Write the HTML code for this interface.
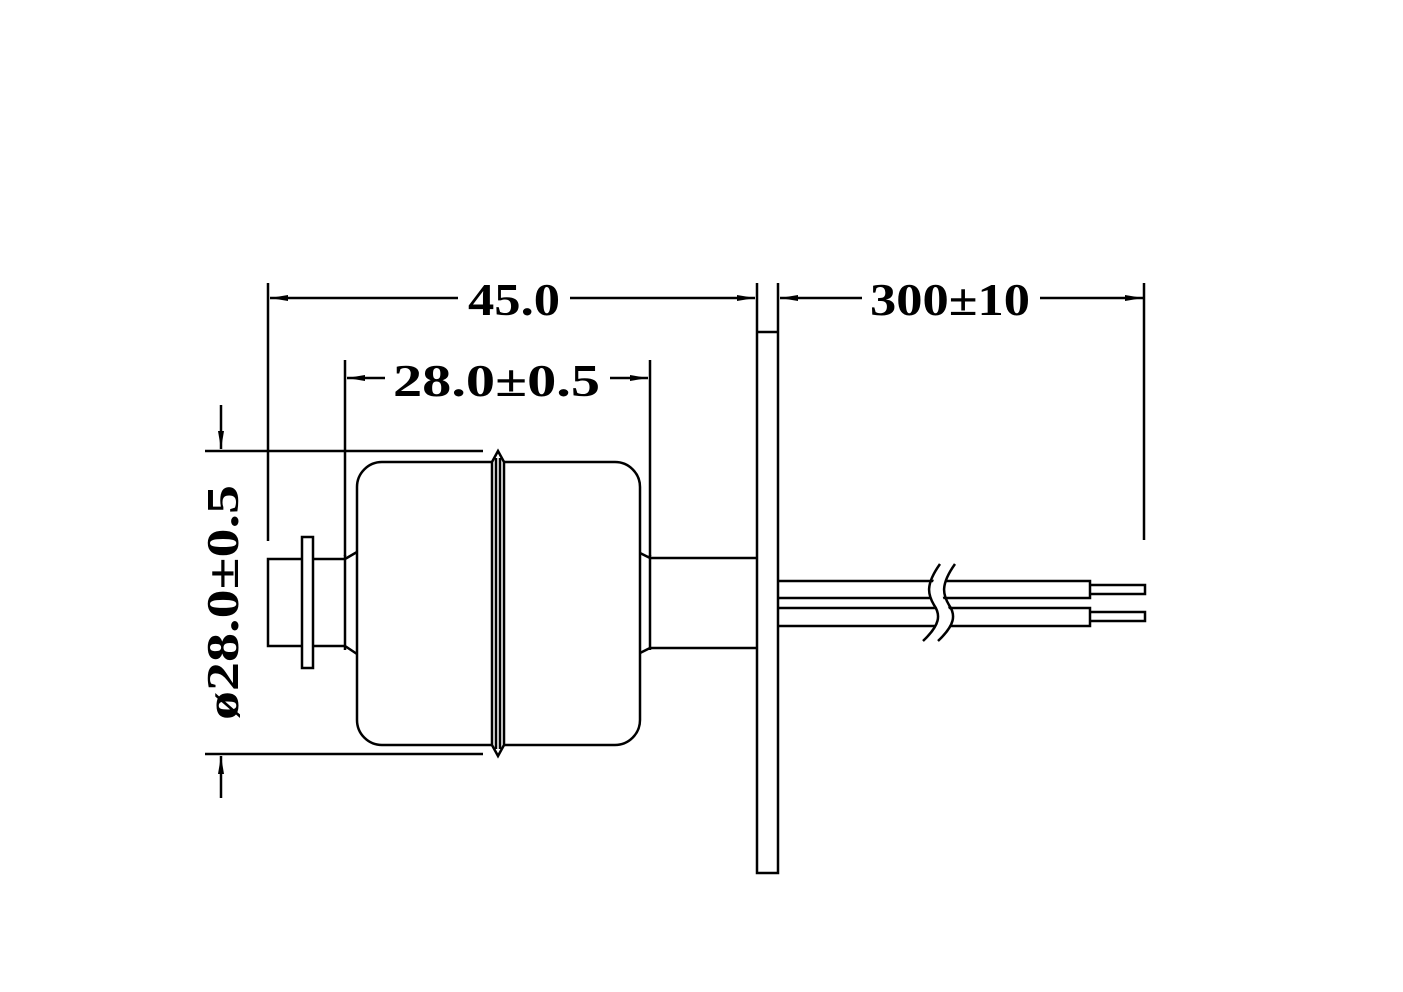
<!DOCTYPE html>
<html><head><meta charset="utf-8"><style>html,body{margin:0;padding:0;background:#fff}svg{display:block}</style></head>
<body>
<svg width="1403" height="992" viewBox="0 0 1403 992" xmlns="http://www.w3.org/2000/svg" fill="none" stroke="#000" stroke-width="2.5">
<defs>
<marker id="a" viewBox="0 0 18 6" refX="18" refY="3" markerWidth="18" markerHeight="6" markerUnits="userSpaceOnUse" orient="auto-start-reverse"><path d="M0,0 L18,3 L0,6 z" fill="#000" stroke="none"/></marker>
</defs>
<!-- 45.0 dimension -->
<line x1="268" y1="283" x2="268" y2="541"/>
<line x1="270" y1="298" x2="458" y2="298" marker-start="url(#a)"/>
<line x1="570" y1="298" x2="755" y2="298" marker-end="url(#a)"/>
<text x="468" y="315" font-family="Liberation Serif,serif" font-weight="bold" font-size="46" fill="#000" stroke="none" textLength="92" lengthAdjust="spacingAndGlyphs">45.0</text>
<!-- 300±10 -->
<line x1="780" y1="298" x2="862" y2="298" marker-start="url(#a)"/>
<line x1="1040" y1="298" x2="1143" y2="298" marker-end="url(#a)"/>
<line x1="1144" y1="283" x2="1144" y2="540"/>
<text x="870" y="315" font-family="Liberation Serif,serif" font-weight="bold" font-size="46" fill="#000" stroke="none" textLength="160" lengthAdjust="spacingAndGlyphs">300±10</text>
<!-- 28.0±0.5 -->
<line x1="345" y1="360" x2="345" y2="556"/>
<line x1="650" y1="360" x2="650" y2="556"/>
<line x1="347" y1="378" x2="385" y2="378" marker-start="url(#a)"/>
<line x1="610" y1="378" x2="648" y2="378" marker-end="url(#a)"/>
<text x="393" y="396" font-family="Liberation Serif,serif" font-weight="bold" font-size="46" fill="#000" stroke="none" textLength="207" lengthAdjust="spacingAndGlyphs">28.0±0.5</text>
<!-- diameter -->
<line x1="205" y1="451" x2="483" y2="451"/>
<line x1="205" y1="754" x2="483" y2="754"/>
<line x1="221" y1="405" x2="221" y2="449" marker-end="url(#a)"/>
<line x1="221" y1="798" x2="221" y2="756" marker-end="url(#a)"/>
<text transform="translate(238,720) rotate(-90)" font-family="Liberation Serif,serif" font-weight="bold" font-size="46" fill="#000" stroke="none" textLength="235" lengthAdjust="spacingAndGlyphs">ø28.0±0.5</text>
<!-- left stub -->
<path d="M345,559 H268 V646 H345"/>
<rect x="302" y="537" width="11" height="131" fill="#fff"/>
<!-- necks -->
<path d="M345,555 V650 M345,559 L357,552 M345,646 L357,654"/>
<path d="M650,555 V650 M650,558 L640,553 M650,648 L640,653"/>
<!-- body -->
<rect x="357" y="462" width="283" height="283" rx="25" fill="#fff"/>
<!-- band -->
<path d="M492,462 L498,451 L504,462 V745 L498,756 L492,745 Z" fill="#fff"/>
<line x1="496" y1="458" x2="496" y2="749"/>
<line x1="500" y1="458" x2="500" y2="749"/>
<!-- stem -->
<path d="M650,558 H757 M650,648 H757"/>
<!-- plate -->
<path d="M757,283 V873 H778 V283 M757,332 H778"/>
<!-- wires -->
<path d="M778,581 H1090 V598 H778 M1090,585 H1145 V594 H1090"/>
<path d="M778,608 H1090 V626 H778 M1090,612 H1145 V621 H1090"/>
<path d="M948,566 C933,590 935,598 941,607 C948,617 946,628 931,641" fill="none" stroke="#fff" stroke-width="12"/>
<path d="M940,564 C925,585 928,595 934,605 C941,615 940,625 923,641"/>
<path d="M955,564 C940,585 943,595 949,605 C956,615 955,625 938,641"/>
</svg>
</body></html>
